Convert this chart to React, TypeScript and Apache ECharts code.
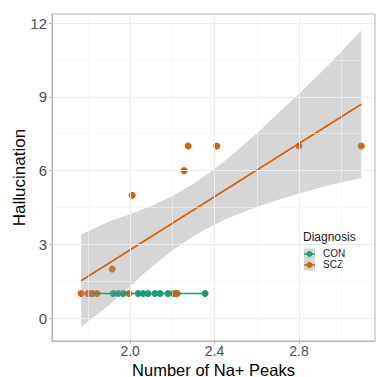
import React, { useEffect, useRef } from "react";
import * as echarts from "echarts";

// CON (control) points
const conX = [1.82, 1.92, 1.943, 1.967, 2.038, 2.062, 2.085, 2.118, 2.142, 2.18, 2.204, 2.355];
const conY = [1, 1, 1, 1, 1, 1, 1, 1, 1, 1, 1, 1];
// SCZ points
const sczX = [1.768, 1.8, 1.82, 1.843, 1.995, 2.213, 2.223, 1.915, 2.01, 2.256, 2.275, 2.41, 2.8, 3.095];
const sczY = [1, 1, 1, 1, 1, 1, 1, 2, 5, 6, 7, 7, 7, 7];
// fitted lines (end points)
const conFitX = [1.82, 2.355];
const conFitY = [1, 1];
const sczFitX = [1.768, 3.095];
const sczFitY = [1.52, 8.7];
// confidence band for SCZ fit
const bandX = [1.768, 1.9, 2.0, 2.05, 2.1, 2.15, 2.2, 2.25, 2.3, 2.35, 2.4, 2.45, 2.5, 2.6, 2.7, 2.8, 2.95, 3.095];
const bandLow = [-0.36, 0.53, 1.28, 1.7, 2.06, 2.42, 2.74, 3.05, 3.33, 3.58, 3.8, 4.01, 4.19, 4.52, 4.8, 5.07, 5.43, 5.7];
const bandHigh = [3.4, 3.93, 4.23, 4.4, 4.56, 4.76, 4.96, 5.21, 5.47, 5.76, 6.08, 6.41, 6.77, 7.52, 8.32, 9.13, 10.39, 11.7];
// ticks & grid
const xTicks = [2.0, 2.4, 2.8];
const xMinor = [1.8, 2.2, 2.6, 3.0];
const yTicks = [0, 3, 6, 9, 12];
const yMinor = [1.5, 4.5, 7.5, 10.5];
const groups = ["CON", "SCZ"];
const colors = ["#1b9e77", "#d95f02"];

const FONT = "Liberation Sans, Arial, Helvetica, sans-serif";

export default function App() {
  const ref = useRef<HTMLDivElement>(null);
  useEffect(() => {
    if (!ref.current) return;
    const chart = echarts.init(ref.current, null, { renderer: "svg" });
    const zip = (a: number[], b: number[]) => a.map((v, i) => [v, b[i]]);
    const gridLines: any[] = [];
    xTicks.forEach((v) => gridLines.push({ xAxis: v, lineStyle: { type: "solid", color: "#ececec", width: 1 } }));
    xMinor.forEach((v) => gridLines.push({ xAxis: v, lineStyle: { type: "solid", color: "#f4f4f4", width: 0.6 } }));
    yTicks.forEach((v) => gridLines.push({ yAxis: v, lineStyle: { type: "solid", color: "#ececec", width: 1 } }));
    yMinor.forEach((v) => gridLines.push({ yAxis: v, lineStyle: { type: "solid", color: "#f4f4f4", width: 0.6 } }));

    const lx = 309;
    const keyY = [254, 265];
    const legendGraphics: any[] = [
      {
        type: "text",
        left: 303,
        top: 231,
        style: { text: "Diagnosis", font: `12px ${FONT}`, fill: "#1a1a1a" },
      },
    ];
    groups.forEach((g, i) => {
      legendGraphics.push({
        type: "rect",
        shape: { x: lx - 5, y: keyY[i] - 5.5, width: 11, height: 11 },
        style: { fill: "#d6d6d6" },
      });
      legendGraphics.push({
        type: "line",
        shape: { x1: lx - 5, y1: keyY[i], x2: lx + 6, y2: keyY[i] },
        style: { stroke: colors[i], lineWidth: 1.5 },
      });
      legendGraphics.push({
        type: "circle",
        shape: { cx: lx + 0.5, cy: keyY[i], r: 3 },
        style: { fill: colors[i] },
      });
      legendGraphics.push({
        type: "text",
        left: 323,
        top: keyY[i] - 6,
        style: { text: g, font: `10px ${FONT}`, fill: "#1a1a1a" },
      });
    });

    chart.setOption({
      animation: false,
      backgroundColor: "#ffffff",
      grid: { left: 52, top: 14, right: 2, bottom: 36, containLabel: false, outerBoundsMode: "none" },
      xAxis: {
        type: "value",
        min: 1.63,
        max: 3.16,
        name: "Number of Na+ Peaks",
        nameLocation: "middle",
        nameGap: 20,
        nameMoveOverlap: false,
        nameTextStyle: { fontFamily: FONT, fontSize: 16.5, color: "#000", verticalAlign: "top" },
        axisLine: { show: true, onZero: false, lineStyle: { color: "#b3b3b3", width: 1 } },
        axisTick: { show: true, length: 3, customValues: xTicks, lineStyle: { color: "#b3b3b3" } },
        axisLabel: {
          customValues: xTicks,
          margin: 3,
          fontFamily: FONT,
          fontSize: 14,
          color: "#4d4d4d",
          formatter: (v: number) => v.toFixed(1),
        },
        splitLine: { show: false },
      },
      yAxis: {
        type: "value",
        min: -0.93,
        max: 12.37,
        name: "Hallucination",
        nameLocation: "middle",
        nameGap: 24,
        nameMoveOverlap: false,
        nameRotate: 90,
        nameTextStyle: { fontFamily: FONT, fontSize: 17, color: "#000" },
        axisLine: { show: true, onZero: false, lineStyle: { color: "#b3b3b3", width: 1 } },
        axisTick: { show: true, length: 3, customValues: yTicks, lineStyle: { color: "#b3b3b3" } },
        axisLabel: {
          customValues: yTicks,
          margin: 5,
          fontFamily: FONT,
          fontSize: 15,
          color: "#4d4d4d",
        },
        splitLine: { show: false },
      },
      graphic: [
        {
          type: "rect",
          shape: { x: 52, y: 14, width: 323, height: 327 },
          style: { fill: "none", stroke: "#b3b3b3", lineWidth: 1 },
          z: 100,
          silent: true,
        },
        ...legendGraphics,
      ],
      series: [
        {
          type: "line",
          data: [],
          silent: true,
          markLine: { silent: true, symbol: "none", label: { show: false }, data: gridLines },
          z: 0,
        },
        {
          name: "CON",
          type: "scatter",
          data: zip(conX, conY),
          symbolSize: 7,
          itemStyle: { color: colors[0], opacity: 1 },
          z: 2,
        },
        {
          name: "SCZ",
          type: "scatter",
          data: zip(sczX, sczY),
          symbolSize: 7,
          itemStyle: { color: colors[1], opacity: 1 },
          z: 2,
        },
        {
          type: "custom",
          data: [[bandX[0], bandLow[0]]],
          silent: true,
          z: 3,
          renderItem: (_params: any, api: any) => {
            const pts: number[][] = [];
            bandX.forEach((x, i) => pts.push(api.coord([x, bandHigh[i]])));
            for (let i = bandX.length - 1; i >= 0; i--) pts.push(api.coord([bandX[i], bandLow[i]]));
            return {
              type: "polygon",
              shape: { points: pts, smooth: 0 },
              style: { fill: "rgba(153,153,153,0.4)", stroke: "none" },
            };
          },
        },
        {
          type: "line",
          data: zip(conFitX, conFitY),
          symbol: "none",
          lineStyle: { color: colors[0], width: 1.6 },
          z: 4,
        },
        {
          type: "line",
          data: zip(sczFitX, sczFitY),
          symbol: "none",
          lineStyle: { color: colors[1], width: 1.6 },
          z: 4,
        },
      ],
    });
    return () => chart.dispose();
  }, []);
  return <div ref={ref} style={{ width: 377, height: 377, position: "absolute", left: 0, top: 0 }} />;
}
